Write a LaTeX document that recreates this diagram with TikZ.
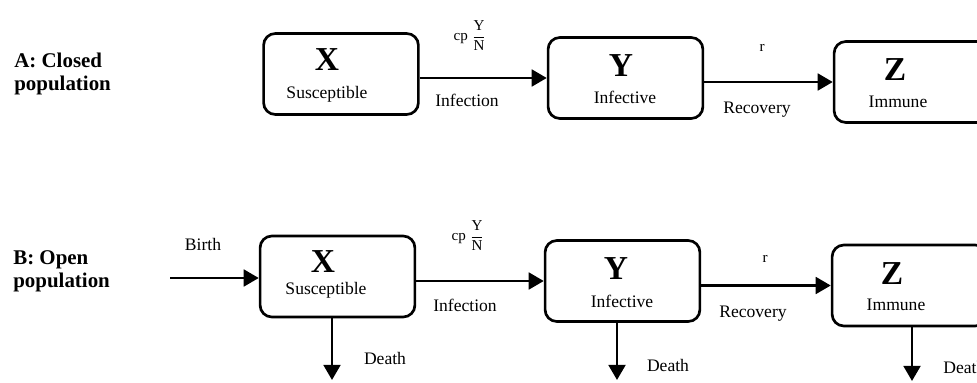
\documentclass[tikz,border=0pt]{standalone}
\usepackage{amsmath}
\usepackage{fontspec}
\setmainfont{Liberation Serif}
\usetikzlibrary{arrows.meta}

\tikzset{
    compbox/.style={
        draw,
        line width=1.6pt,
        rounded corners=7pt,
        minimum width=3.25cm,
        minimum height=1.70cm,
        inner sep=0pt
    },
    flow/.style={
        line width=1.6pt,
        -{Triangle[length=9pt,width=10pt]}
    },
    bigletter/.style={font=\fontsize{20}{20}\selectfont\bfseries, inner sep=0pt},
    smalltext/.style={font=\fontsize{10.5}{12}\selectfont, inner sep=0pt},
    ratetext/.style={font=\fontsize{9}{10}\selectfont, inner sep=0pt},
    poplabel/.style={
        font=\fontsize{12.5}{13.5}\selectfont\bfseries,
        align=left,
        anchor=west,
        inner sep=0pt
    }
}

\begin{document}
\begin{tikzpicture}[x=0.021cm,y=-0.021cm]

    % -------------------------------------------------
    % Page frame (pixel coordinates, y pointing down)
    % -------------------------------------------------
    \useasboundingbox (0,0) rectangle (977,383);
    \fill[white] (0,0) rectangle (977,383);

    % -------------------------------------------------
    % Row labels
    % -------------------------------------------------
    \node[poplabel] (labA) at (14,74)  {A: Closed\\population};
    \node[poplabel] (labB) at (13,271) {B: Open\\population};

    % -------------------------------------------------
    % A: closed population compartments
    % -------------------------------------------------
    \node[compbox] (xA) at (341,74)    {};
    \node[compbox] (yA) at (625.5,78)  {};
    \node[compbox] (zA) at (911.5,82)  {};

    \node[bigletter] (xAl) at (327,60)  {X};
    \node[smalltext] (xAn) at (327,94)  {Susceptible};
    \node[bigletter] (yAl) at (621,66)  {Y};
    \node[smalltext] (yAn) at (625,97)  {Infective};
    \node[bigletter] (zAl) at (895,70)  {Z};
    \node[smalltext] (zAn) at (898,102) {Immune};

    % flows between compartments
    \draw[flow] (xA.east |- yA.west) -- (yA.west);
    \draw[flow] (yA.east |- zA.west) -- (zA.west);

    \node[ratetext]  (infA) at (470,36)  {cp $\genfrac{}{}{0.5pt}{0}{\mathrm{Y}}{\mathrm{N}}$};
    \node[smalltext] (infAn) at (467,100) {Infection};
    \node[ratetext]  (recA) at (762,48)  {r};
    \node[smalltext] (recAn) at (757,110) {Recovery};

    % -------------------------------------------------
    % B: open population compartments
    % -------------------------------------------------
    \node[compbox] (xB) at (337.5,276.5) {};
    \node[compbox] (yB) at (622.5,281)   {};
    \node[compbox] (zB) at (909.5,285.5) {};

    \node[bigletter] (xBl) at (323,262)   {X};
    \node[smalltext] (xBn) at (326,290)   {Susceptible};
    \node[bigletter] (yBl) at (616,269)   {Y};
    \node[smalltext] (yBn) at (622,301)   {Infective};
    \node[bigletter] (zBl) at (892,274)   {Z};
    \node[smalltext] (zBn) at (896,305)   {Immune};

    % free ends of birth and death flows
    \coordinate (birth) at (170,278);
    \coordinate (dthX)  at (332,380);
    \coordinate (dthY)  at (617,380);
    \coordinate (dthZ)  at (912,381);

    \draw[flow] (birth) -- (xB.west |- birth);
    \draw[flow] (xB.east |- yB.west) -- (yB.west);
    \draw[flow] (yB.east |- zB.west) -- (zB.west);
    \draw[flow] (xB.south -| dthX) -- (dthX);
    \draw[flow] (yB.south -| dthY) -- (dthY);
    \draw[flow] (zB.south -| dthZ) -- (dthZ);

    \node[smalltext] (birthn) at (203,244) {Birth};
    \node[ratetext]  (infB)   at (468,236) {cp $\genfrac{}{}{0.5pt}{0}{\mathrm{Y}}{\mathrm{N}}$};
    \node[smalltext] (infBn)  at (465,305) {Infection};
    \node[ratetext]  (recB)   at (765,259) {r};
    \node[smalltext] (recBn)  at (753,314) {Recovery};
    \node[smalltext] (dthXn)  at (385,358) {Death};
    \node[smalltext] (dthYn)  at (668,365) {Death};
    \node[smalltext, anchor=west] (dthZn) at (943,367) {Death};

\end{tikzpicture}
\end{document}
